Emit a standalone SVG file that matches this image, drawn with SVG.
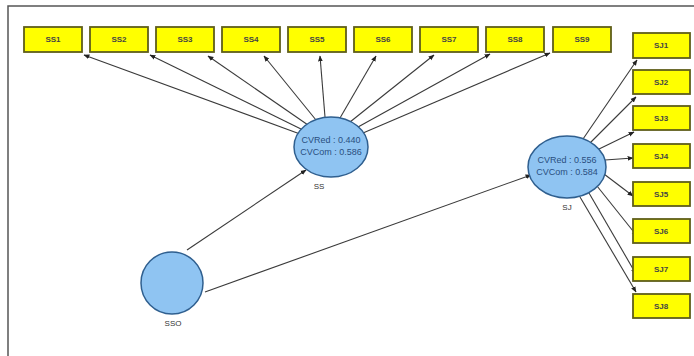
<svg xmlns="http://www.w3.org/2000/svg" width="694" height="356" viewBox="0 0 694 356">
<defs>
<marker id="ah" viewBox="0 0 10 10" refX="9" refY="5" markerWidth="6" markerHeight="6" orient="auto-start-reverse" markerUnits="userSpaceOnUse">
<path d="M0,1 L10,5 L0,9 z" fill="#222"/>
</marker>
<style>
.box{fill:#ffff00;stroke:#5f5e1a;stroke-width:1.8}
.bt{font-family:"Liberation Sans",Arial,sans-serif;font-size:8px;font-weight:bold;fill:#444;text-anchor:middle}
.lv{fill:#8fc4f2;stroke:#2f5f8f;stroke-width:1.5}
.lt{font-family:"Liberation Sans",Arial,sans-serif;font-size:9px;fill:#2a4f80;text-anchor:middle}
.nl{font-family:"Liberation Sans",Arial,sans-serif;font-size:8px;fill:#333;text-anchor:middle}
.c{stroke:#3a3a3a;stroke-width:1.1;fill:none;marker-end:url(#ah)}
</style>
</defs>
<rect width="694" height="356" fill="#ffffff"/>
<path d="M8,356 L8,6 L694,6" fill="none" stroke="#555" stroke-width="1.5"/>
<g id="connectors">
<line class="c" x1="300" y1="134" x2="84" y2="55"/>
<line class="c" x1="303" y1="130" x2="150" y2="55"/>
<line class="c" x1="308" y1="125" x2="208" y2="56"/>
<line class="c" x1="316" y1="120" x2="264" y2="56"/>
<line class="c" x1="325" y1="117" x2="320" y2="56"/>
<line class="c" x1="340" y1="118" x2="376" y2="56"/>
<line class="c" x1="350" y1="122" x2="434" y2="55"/>
<line class="c" x1="358" y1="127" x2="490" y2="54"/>
<line class="c" x1="363" y1="133" x2="550" y2="53"/>
<line class="c" x1="583" y1="139" x2="637" y2="60"/>
<line class="c" x1="590" y1="143" x2="636" y2="97"/>
<line class="c" x1="597" y1="150" x2="634" y2="132"/>
<line class="c" x1="605" y1="160" x2="633" y2="158"/>
<line class="c" x1="604" y1="174" x2="633" y2="196"/>
<line class="c" x1="597" y1="186" x2="637" y2="236"/>
<line class="c" x1="589" y1="193" x2="636" y2="274"/>
<line class="c" x1="580" y1="197" x2="636" y2="292"/>
<line class="c" x1="187" y1="250" x2="306" y2="170"/>
<line class="c" x1="205" y1="292" x2="531" y2="175"/>
</g>
<g id="SS1"><rect class="box" x="24" y="27" width="58" height="25"/><text class="bt" x="53" y="42">SS1</text></g>
<g id="SS2"><rect class="box" x="90" y="27" width="58" height="25"/><text class="bt" x="119" y="42">SS2</text></g>
<g id="SS3"><rect class="box" x="156" y="27" width="58" height="25"/><text class="bt" x="185" y="42">SS3</text></g>
<g id="SS4"><rect class="box" x="222" y="27" width="58" height="25"/><text class="bt" x="251" y="42">SS4</text></g>
<g id="SS5"><rect class="box" x="288" y="27" width="58" height="25"/><text class="bt" x="317" y="42">SS5</text></g>
<g id="SS6"><rect class="box" x="354" y="27" width="58" height="25"/><text class="bt" x="383" y="42">SS6</text></g>
<g id="SS7"><rect class="box" x="420" y="27" width="58" height="25"/><text class="bt" x="449" y="42">SS7</text></g>
<g id="SS8"><rect class="box" x="486" y="27" width="58" height="25"/><text class="bt" x="515" y="42">SS8</text></g>
<g id="SS9"><rect class="box" x="553" y="27" width="58" height="25"/><text class="bt" x="582" y="42">SS9</text></g>
<g id="SJ1"><rect class="box" x="633" y="33" width="57" height="25"/><text class="bt" x="661" y="48">SJ1</text></g>
<g id="SJ2"><rect class="box" x="633" y="70" width="57" height="24"/><text class="bt" x="661" y="85">SJ2</text></g>
<g id="SJ3"><rect class="box" x="633" y="106" width="57" height="24"/><text class="bt" x="661" y="121">SJ3</text></g>
<g id="SJ4"><rect class="box" x="633" y="144" width="57" height="24"/><text class="bt" x="661" y="159">SJ4</text></g>
<g id="SJ5"><rect class="box" x="633" y="182" width="57" height="24"/><text class="bt" x="661" y="197">SJ5</text></g>
<g id="SJ6"><rect class="box" x="633" y="219" width="57" height="24"/><text class="bt" x="661" y="234">SJ6</text></g>
<g id="SJ7"><rect class="box" x="633" y="257" width="57" height="24"/><text class="bt" x="661" y="272">SJ7</text></g>
<g id="SJ8"><rect class="box" x="633" y="294" width="57" height="24"/><text class="bt" x="661" y="309">SJ8</text></g>
<g id="SS">
<ellipse class="lv" cx="331" cy="147" rx="37" ry="30"/>
<text class="lt" x="331" y="143">CVRed : 0.440</text>
<text class="lt" x="331" y="155">CVCom : 0.586</text>
<text class="nl" x="319" y="189">SS</text>
</g>
<g id="SJ">
<ellipse class="lv" cx="567" cy="167" rx="39" ry="31"/>
<text class="lt" x="567" y="163">CVRed : 0.556</text>
<text class="lt" x="567" y="175">CVCom : 0.584</text>
<text class="nl" x="567" y="210">SJ</text>
</g>
<g id="SSO">
<circle class="lv" cx="172" cy="283" r="31"/>
<text class="nl" x="173" y="326">SSO</text>
</g>
</svg>
